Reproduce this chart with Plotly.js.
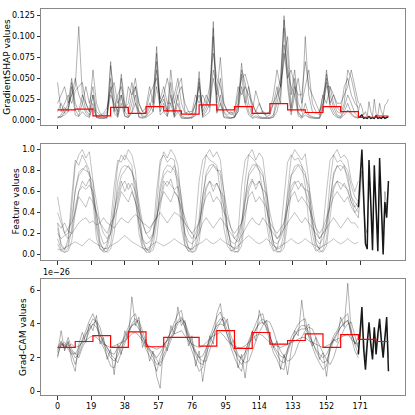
<!DOCTYPE html>
<html>
<head>
<meta charset="utf-8">
<script src="https://cdn.plot.ly/plotly-3.0.1.min.js"></script>
<style>
  html, body { margin: 0; padding: 0; background: #fff; }
  #chart { width: 415px; height: 415px; }
</style>
</head>
<body>
<div id="chart"></div>
<script>
// sample grid: grey lines are read every 2 steps from 0 to 170, the shared tail every step from 170 to 187
const sampleStep = 2;
const tailStart = 170;
const lastIndex = 187;
const windowSize = 10;
const xTicks = [0, 19, 38, 57, 76, 95, 114, 133, 152, 171];

// ---- GradientSHAP values (top) ----
const shap1 = [0.004,0.003,0.01,0.02,0.05,0.012,0.005,0.02,0.008,0.004,
  0.02,0.003,0.002,0.002,0.003,0.07,0.015,0.004,0.03,0.005,
  0.003,0.01,0.03,0.004,0.003,0.004,0.01,0.02,0.088,0.01,
  0.02,0.005,0.03,0.004,0.02,0.003,0.002,0.003,0.002,0.008,
  0.058,0.004,0.01,0.02,0.118,0.01,0.03,0.004,0.003,0.002,
  0.004,0.02,0.068,0.03,0.01,0.003,0.005,0.003,0.002,0.003,
  0.002,0.004,0.02,0.04,0.125,0.05,0.01,0.04,0.008,0.003,
  0.01,0.004,0.003,0.002,0.003,0.02,0.06,0.02,0.01,0.004,
  0.003,0.01,0.02,0.008,0.004,0.003];
const shap2 = [0.002,0.006,0.015,0.01,0.045,0.02,0.01,0.03,0.012,0.006,
  0.03,0.004,0.003,0.002,0.004,0.065,0.03,0.006,0.05,0.01,
  0.004,0.02,0.04,0.01,0.004,0.005,0.015,0.03,0.08,0.02,
  0.03,0.01,0.045,0.006,0.03,0.005,0.003,0.002,0.004,0.01,
  0.05,0.006,0.015,0.03,0.11,0.02,0.05,0.008,0.004,0.003,
  0.003,0.015,0.06,0.045,0.02,0.005,0.01,0.004,0.003,0.002,
  0.003,0.006,0.03,0.05,0.12,0.08,0.015,0.05,0.01,0.004,
  0.02,0.006,0.004,0.003,0.002,0.015,0.055,0.03,0.015,0.006,
  0.004,0.015,0.03,0.02,0.008,0.004];
const shap3 = [0.01,0.02,0.008,0.015,0.03,0.04,0.112,0.03,0.02,0.01,
  0.06,0.02,0.008,0.004,0.006,0.03,0.02,0.01,0.055,0.02,
  0.01,0.03,0.05,0.02,0.01,0.008,0.02,0.01,0.04,0.015,
  0.025,0.01,0.06,0.02,0.04,0.05,0.01,0.006,0.008,0.02,
  0.03,0.01,0.02,0.015,0.05,0.03,0.075,0.02,0.01,0.006,
  0.008,0.03,0.05,0.055,0.04,0.01,0.035,0.02,0.008,0.006,
  0.01,0.02,0.03,0.04,0.07,0.1,0.03,0.06,0.02,0.01,
  0.1,0.03,0.01,0.008,0.01,0.02,0.04,0.04,0.02,0.01,
  0.008,0.02,0.06,0.05,0.03,0.01];
const shap4 = [0.045,0.01,0.02,0.03,0.02,0.035,0.04,0.045,0.02,0.01,
  0.03,0.005,0.004,0.006,0.01,0.04,0.01,0.03,0.04,0.015,
  0.02,0.045,0.02,0.01,0.006,0.01,0.03,0.04,0.05,0.025,
  0.04,0.02,0.02,0.03,0.05,0.02,0.008,0.01,0.006,0.02,
  0.04,0.015,0.03,0.02,0.06,0.04,0.02,0.01,0.006,0.01,
  0.004,0.01,0.04,0.02,0.04,0.02,0.01,0.008,0.01,0.004,
  0.006,0.02,0.04,0.02,0.09,0.06,0.04,0.03,0.05,0.02,
  0.04,0.06,0.02,0.01,0.006,0.03,0.045,0.02,0.03,0.015,
  0.01,0.04,0.05,0.03,0.02,0.015];
const shap5 = [0.003,0.004,0.006,0.01,0.04,0.006,0.004,0.01,0.005,0.003,
  0.015,0.003,0.002,0.003,0.002,0.05,0.008,0.003,0.02,0.004,
  0.003,0.008,0.02,0.003,0.002,0.003,0.006,0.01,0.07,0.006,
  0.01,0.004,0.02,0.003,0.01,0.002,0.002,0.002,0.003,0.005,
  0.045,0.003,0.006,0.01,0.1,0.008,0.02,0.003,0.002,0.002,
  0.003,0.01,0.055,0.02,0.006,0.002,0.003,0.002,0.002,0.002,
  0.002,0.003,0.01,0.03,0.11,0.04,0.006,0.03,0.005,0.002,
  0.006,0.003,0.002,0.002,0.002,0.01,0.05,0.015,0.006,0.003,
  0.002,0.006,0.012,0.006,0.003,0.002];
const shap6 = [0.02,0.03,0.04,0.02,0.03,0.05,0.03,0.02,0.04,0.02,
  0.04,0.01,0.006,0.008,0.015,0.035,0.045,0.02,0.03,0.01,
  0.04,0.03,0.04,0.02,0.01,0.015,0.04,0.02,0.06,0.02,
  0.03,0.05,0.03,0.01,0.03,0.04,0.02,0.01,0.01,0.03,
  0.02,0.03,0.02,0.04,0.08,0.05,0.04,0.02,0.01,0.008,
  0.01,0.04,0.03,0.04,0.03,0.02,0.01,0.02,0.01,0.008,
  0.01,0.03,0.06,0.04,0.08,0.05,0.06,0.04,0.03,0.03,
  0.07,0.04,0.03,0.02,0.01,0.03,0.02,0.04,0.03,0.02,
  0.02,0.03,0.04,0.06,0.04,0.02];
const shapTail = [0.003,0.004,0.006,0.002,0.003,0.002,0.004,0.002,0.003,0.002,0.005,0.002,0.003,0.002,0.004,0.002,0.003,0.004];
const shapTailGrey = [0.01,0.02,0.015,0.006,0.01,0.004,0.022,0.01,0.004,0.025,0.008,0.005,0.02,0.01,0.006,0.018,0.02,0.025];
const shapWindowMean = [0.012,0.013,0.005,0.015,0.008,0.016,0.011,0.007,0.018,0.012,0.016,0.008,0.0195,0.012,0.009,0.016,0.010,0.0032,0.0048];

// ---- Feature values (middle) ----
const feat1 = [0.1,0.03,0.02,0.06,0.25,0.62,0.78,0.82,0.8,0.78,
  0.6,0.25,0.06,0.02,0.03,0.1,0.35,0.7,0.82,0.85,
  0.83,0.8,0.65,0.3,0.08,0.02,0.02,0.08,0.3,0.65,
  0.8,0.85,0.84,0.8,0.7,0.35,0.1,0.03,0.02,0.05,
  0.2,0.55,0.78,0.85,0.86,0.82,0.75,0.45,0.15,0.04,
  0.02,0.03,0.15,0.5,0.78,0.85,0.86,0.84,0.78,0.5,
  0.18,0.05,0.02,0.03,0.12,0.45,0.75,0.84,0.86,0.84,
  0.78,0.55,0.2,0.05,0.02,0.04,0.15,0.5,0.78,0.84,
  0.85,0.82,0.75,0.55,0.45,0.5];
const feat2 = [0.3,0.1,0.05,0.1,0.45,0.85,0.95,1.0,0.92,0.98,
  0.7,0.3,0.1,0.05,0.06,0.2,0.5,0.85,0.95,0.9,
  1.0,0.95,0.8,0.4,0.12,0.05,0.04,0.15,0.45,0.85,
  0.98,0.92,1.0,0.95,0.85,0.5,0.15,0.06,0.04,0.1,
  0.35,0.75,0.95,1.0,0.93,0.98,0.9,0.6,0.25,0.08,
  0.05,0.06,0.25,0.7,0.95,1.0,0.9,0.97,0.92,0.65,
  0.3,0.1,0.05,0.06,0.2,0.6,0.92,1.0,0.95,0.9,
  0.96,0.7,0.3,0.1,0.05,0.08,0.3,0.7,0.95,1.0,
  0.92,0.95,0.9,0.7,0.6,0.7];
const feat3 = [0.15,0.05,0.02,0.03,0.12,0.4,0.6,0.65,0.62,0.66,
  0.6,0.4,0.12,0.04,0.02,0.05,0.2,0.5,0.65,0.7,
  0.62,0.68,0.6,0.45,0.15,0.05,0.02,0.04,0.15,0.45,
  0.65,0.7,0.66,0.62,0.65,0.5,0.2,0.06,0.02,0.03,
  0.12,0.4,0.62,0.7,0.65,0.68,0.6,0.55,0.25,0.08,
  0.03,0.02,0.08,0.35,0.6,0.7,0.66,0.7,0.62,0.58,
  0.3,0.1,0.03,0.02,0.06,0.3,0.6,0.68,0.7,0.65,
  0.62,0.6,0.35,0.12,0.04,0.02,0.08,0.35,0.62,0.7,
  0.68,0.65,0.62,0.5,0.4,0.35];
const feat4 = [0.55,0.35,0.2,0.25,0.3,0.4,0.55,0.5,0.45,0.55,
  0.5,0.4,0.3,0.25,0.2,0.3,0.35,0.45,0.6,0.55,
  0.5,0.6,0.5,0.4,0.3,0.2,0.22,0.3,0.35,0.5,
  0.6,0.55,0.5,0.6,0.55,0.45,0.35,0.25,0.2,0.25,
  0.3,0.45,0.55,0.6,0.5,0.55,0.5,0.4,0.35,0.25,
  0.2,0.25,0.3,0.4,0.55,0.6,0.5,0.55,0.5,0.45,
  0.3,0.25,0.2,0.25,0.3,0.45,0.55,0.6,0.5,0.55,
  0.5,0.45,0.35,0.25,0.2,0.25,0.35,0.45,0.55,0.6,
  0.55,0.5,0.55,0.45,0.4,0.45];
const feat5 = [0.3,0.25,0.3,0.22,0.2,0.25,0.3,0.33,0.35,0.3,
  0.32,0.28,0.3,0.35,0.3,0.28,0.25,0.3,0.35,0.32,
  0.3,0.35,0.38,0.35,0.3,0.28,0.25,0.3,0.35,0.4,
  0.35,0.3,0.35,0.4,0.38,0.35,0.3,0.25,0.2,0.15,
  0.2,0.3,0.35,0.3,0.25,0.3,0.35,0.3,0.25,0.2,
  0.15,0.12,0.18,0.25,0.3,0.35,0.3,0.28,0.35,0.3,
  0.25,0.2,0.15,0.18,0.25,0.3,0.35,0.4,0.35,0.3,
  0.35,0.3,0.25,0.2,0.15,0.2,0.25,0.3,0.35,0.3,
  0.25,0.3,0.35,0.3,0.3,0.25];
const feat6 = [0.05,0.04,0.06,0.08,0.1,0.12,0.1,0.08,0.12,0.15,
  0.12,0.1,0.08,0.06,0.05,0.08,0.1,0.12,0.15,0.18,
  0.15,0.12,0.1,0.08,0.06,0.05,0.07,0.1,0.12,0.1,
  0.08,0.1,0.12,0.15,0.12,0.1,0.08,0.06,0.05,0.08,
  0.1,0.12,0.15,0.12,0.1,0.12,0.15,0.12,0.1,0.08,
  0.06,0.08,0.12,0.15,0.18,0.15,0.12,0.1,0.12,0.15,
  0.12,0.08,0.06,0.08,0.1,0.12,0.15,0.12,0.1,0.12,
  0.15,0.12,0.1,0.08,0.06,0.08,0.1,0.12,0.15,0.12,
  0.1,0.12,0.15,0.12,0.1,0.12];
const feat7 = [0.2,0.15,0.18,0.2,0.35,0.6,0.75,0.8,0.85,0.75,
  0.7,0.5,0.3,0.2,0.15,0.2,0.4,0.6,0.75,0.8,
  0.85,0.78,0.7,0.5,0.3,0.2,0.15,0.2,0.35,0.6,
  0.75,0.8,0.78,0.85,0.75,0.55,0.3,0.2,0.15,0.2,
  0.3,0.55,0.75,0.8,0.85,0.8,0.8,0.6,0.4,0.25,
  0.15,0.2,0.3,0.55,0.75,0.8,0.85,0.8,0.75,0.6,
  0.4,0.25,0.15,0.2,0.3,0.55,0.75,0.8,0.85,0.8,
  0.75,0.65,0.45,0.25,0.15,0.2,0.3,0.55,0.75,0.85,
  0.8,0.85,0.8,0.65,0.55,0.5];
const feat8 = [0.25,0.08,0.04,0.15,0.55,0.9,0.85,0.95,0.88,0.8,
  0.5,0.15,0.05,0.03,0.1,0.3,0.65,0.9,0.88,0.95,
  0.9,0.85,0.55,0.2,0.06,0.03,0.05,0.2,0.6,0.9,
  0.95,0.88,0.92,0.9,0.6,0.25,0.08,0.03,0.06,0.3,
  0.7,0.9,0.95,0.9,0.88,0.85,0.6,0.25,0.08,0.03,
  0.05,0.2,0.65,0.9,0.95,0.92,0.88,0.8,0.6,0.3,
  0.1,0.03,0.05,0.2,0.55,0.88,0.95,0.9,0.92,0.85,
  0.65,0.3,0.1,0.03,0.05,0.25,0.6,0.9,0.95,0.88,
  0.9,0.85,0.7,0.55,0.5,0.45];
const feat9 = [0.4,0.3,0.2,0.15,0.2,0.45,0.6,0.7,0.65,0.72,
  0.55,0.35,0.2,0.1,0.12,0.2,0.4,0.55,0.7,0.6,
  0.68,0.62,0.5,0.3,0.15,0.1,0.12,0.18,0.35,0.55,
  0.7,0.65,0.72,0.6,0.55,0.4,0.2,0.12,0.1,0.15,
  0.25,0.5,0.65,0.7,0.6,0.68,0.6,0.45,0.25,0.12,
  0.1,0.15,0.3,0.5,0.65,0.72,0.62,0.7,0.6,0.45,
  0.25,0.12,0.1,0.15,0.25,0.45,0.65,0.7,0.62,0.68,
  0.6,0.5,0.3,0.15,0.1,0.15,0.25,0.5,0.65,0.7,
  0.62,0.68,0.6,0.5,0.45,0.4];
const featTail = [0.45,0.7,1.0,0.55,0.1,0.05,0.9,0.5,0.04,0.85,0.45,0.03,0.92,0.4,0.0,0.5,0.35,0.7];
const featTailGrey = [0.35,0.55,0.8,0.45,0.25,0.2,0.7,0.45,0.2,0.7,0.4,0.2,0.75,0.4,0.2,0.6,0.45,0.65];

// ---- Grad-CAM values (bottom), in units of 1e-26 ----
const cam1 = [2.1,2.8,2.7,2.6,2.4,2.0,2.2,2.8,3.3,3.9,
  4.3,4.1,3.4,2.8,2.4,2.0,1.8,2.1,2.6,3.0,
  3.5,4.0,4.3,4.0,3.3,2.7,2.4,2.0,1.6,1.7,
  2.2,2.8,3.3,3.8,4.2,4.4,4.0,3.3,2.7,2.2,
  1.7,1.6,2.2,2.9,3.5,4.0,4.3,4.2,3.6,2.9,
  2.4,1.9,1.6,2.0,2.7,3.2,3.7,4.1,4.3,4.0,
  3.3,2.6,2.2,1.8,1.7,2.3,2.9,3.3,3.7,3.9,
  3.9,3.5,2.9,2.4,2.0,1.7,1.8,2.4,3.0,3.4,
  3.8,4.1,4.2,3.6,2.8,2.2];
const cam2 = [2.0,3.0,2.5,2.9,2.2,1.6,2.4,3.1,3.6,4.2,
  4.6,4.0,3.0,2.6,2.1,1.5,1.4,2.4,2.9,3.3,
  3.8,4.4,4.6,3.8,3.0,2.5,2.1,1.8,1.2,2.0,
  2.5,3.1,3.6,4.1,4.6,4.8,3.7,3.0,2.4,1.9,
  1.2,1.4,2.5,3.2,3.8,4.4,4.7,4.0,3.2,2.6,
  2.0,1.5,1.2,2.3,3.0,3.5,4.0,4.5,4.6,3.7,
  3.0,2.3,1.9,1.4,1.3,2.5,3.2,3.6,4.0,4.2,
  4.3,3.2,2.6,2.1,1.7,1.3,1.5,2.7,3.3,3.6,
  4.1,4.4,4.6,3.2,2.4,2.0];
const cam3 = [2.6,2.8,2.9,2.7,2.8,2.6,2.7,2.9,3.0,3.2,
  3.3,3.2,3.0,2.8,2.7,2.6,2.7,2.8,2.9,3.0,
  3.2,3.4,3.5,3.3,3.0,2.8,2.7,2.6,2.5,2.6,
  2.8,3.0,3.2,3.4,3.5,3.6,3.3,3.0,2.8,2.7,
  2.6,2.7,2.9,3.1,3.3,3.4,3.5,3.3,3.0,2.8,
  2.7,2.6,2.6,2.7,2.9,3.1,3.3,3.4,3.3,3.1,
  2.9,2.8,2.7,2.6,2.7,2.8,2.9,3.0,3.1,3.2,
  3.2,3.0,2.9,2.8,2.7,2.6,2.7,2.8,3.0,3.1,
  3.2,3.3,3.4,3.1,2.9,2.8];
const cam4 = [2.3,3.6,2.4,3.0,1.8,1.2,2.8,3.5,2.9,4.0,
  3.6,4.5,2.8,3.2,1.9,2.5,1.0,2.8,2.2,3.6,
  3.1,5.6,3.9,4.4,2.6,3.1,1.8,2.4,0.9,0.2,
  2.9,2.4,3.9,3.4,5.0,3.9,4.2,2.7,3.3,1.5,
  2.4,0.6,2.0,3.3,2.8,4.6,5.2,3.9,4.3,2.8,
  3.1,1.4,2.2,0.8,2.5,3.6,3.0,4.8,4.0,4.2,
  3.3,2.6,3.0,1.3,2.2,1.0,2.4,3.6,3.3,5.4,
  3.7,4.0,2.7,3.2,1.9,2.3,0.9,2.6,3.1,2.9,
  4.4,3.8,6.4,3.5,2.8,3.2];
const cam5 = [2.5,2.7,2.8,2.5,2.2,2.3,2.0,2.6,3.0,3.6,
  4.0,4.2,3.8,3.0,2.6,2.2,2.0,1.7,2.3,2.8,
  3.3,3.9,4.1,4.2,3.6,2.9,2.5,2.2,1.9,1.5,
  2.0,2.6,3.0,3.6,4.0,4.3,4.1,3.5,2.9,2.4,
  2.0,1.8,1.8,2.5,3.1,3.7,4.1,4.4,4.0,3.3,
  2.7,2.2,1.9,1.7,1.8,2.4,3.0,3.5,3.9,4.2,
  4.1,3.6,2.9,2.4,2.1,1.8,1.9,2.2,2.8,3.2,
  3.6,3.8,3.7,3.2,2.7,2.3,1.9,1.6,2.0,2.7,
  3.2,3.7,4.0,4.1,3.3,2.6];
const cam6 = [2.7,2.9,2.6,3.2,2.5,2.2,2.6,3.0,3.4,3.7,
  4.0,3.8,3.3,2.9,2.6,2.3,2.2,2.6,2.8,3.2,
  3.6,3.9,4.0,3.7,3.2,2.9,2.5,2.3,2.0,2.3,
  2.7,3.1,3.5,3.9,4.1,4.2,3.8,3.2,2.7,2.3,
  2.0,2.1,2.6,3.1,3.5,3.9,4.0,3.9,3.3,2.8,
  2.4,2.1,2.0,2.3,2.9,3.3,3.7,4.0,4.1,3.8,
  3.2,2.7,2.4,2.1,2.0,2.5,3.0,3.3,3.6,3.7,
  3.7,3.3,2.9,2.5,2.2,2.0,2.2,2.7,3.1,3.5,
  3.8,4.0,4.2,3.4,2.9,2.6];
const camTail = [2.2,3.6,5.0,2.5,1.3,2.8,4.1,2.8,1.9,3.8,2.2,3.4,4.3,3.0,2.0,3.2,4.4,1.2];
const camTailGrey = [2.8,3.2,4.2,3.0,2.0,3.0,3.8,3.0,2.3,3.6,2.8,3.0,3.9,3.2,2.5,3.2,3.8,2.0];
const camWindowMean = [2.61,2.96,3.31,2.61,3.53,2.65,3.2,3.2,2.69,3.6,2.55,3.49,2.8,3.02,3.41,2.61,3.37,3.08,2.96];

const panels = [
    { lines: [shap1, shap2, shap3, shap4, shap5, shap6], tail: shapTail, tailGrey: shapTailGrey, mean: shapWindowMean, alpha: 0.3 },
    { lines: [feat1, feat2, feat3, feat4, feat5, feat6, feat7, feat8, feat9], tail: featTail, tailGrey: featTailGrey, mean: null, alpha: 0.24 },
    { lines: [cam1, cam2, cam3, cam4, cam5, cam6], tail: camTail, tailGrey: camTailGrey, mean: camWindowMean, alpha: 0.3 },
];

const traces = [];
panels.forEach((p, k) => {
    const xa = k === 0 ? 'x' : 'x' + (k + 1);
    const ya = k === 0 ? 'y' : 'y' + (k + 1);
    p.lines.forEach(vals => {
        traces.push({
            x: vals.map((v, i) => i * sampleStep), y: vals,
            xaxis: xa, yaxis: ya, mode: 'lines', type: 'scatter',
            line: { color: `rgba(0,0,0,${p.alpha})`, width: 1 },
        });
    });
    traces.push({
        x: p.tailGrey.map((v, i) => tailStart + i), y: p.tailGrey,
        xaxis: xa, yaxis: ya, mode: 'lines', type: 'scatter',
        line: { color: 'rgba(0,0,0,0.3)', width: 1 },
    });
    traces.push({
        x: p.tail.map((v, i) => tailStart + i), y: p.tail,
        xaxis: xa, yaxis: ya, mode: 'lines', type: 'scatter',
        line: { color: 'rgba(0,0,0,0.9)', width: 1.5 },
    });
    if (p.mean) {
        // window means drawn as steps, one level per window of 10
        const sx = p.mean.map((v, i) => i * windowSize).concat([lastIndex]);
        const sy = p.mean.concat([p.mean[p.mean.length - 1]]);
        traces.push({
            x: sx, y: sy, xaxis: xa, yaxis: ya, mode: 'lines', type: 'scatter',
            line: { color: '#ff0000', width: 1.2, shape: 'hv' },
        });
    }
});

const font = { family: 'DejaVu Sans, sans-serif', size: 8, color: '#000' };
const titleFont = { family: 'DejaVu Sans, sans-serif', size: 9, color: '#000' };
function xAxis(domainAnchor, showLabels) {
    return {
        range: [-9.35, 196.35], anchor: domainAnchor, tickvals: xTicks,
        showticklabels: showLabels, ticks: 'outside', ticklen: 3.5, tickcolor: '#333',
        showline: true, mirror: true, linecolor: '#888', linewidth: 1,
        showgrid: false, zeroline: false, tickfont: font,
    };
}
function yAxis(domain, anchor, range, dtick, fmt) {
    return {
        domain: domain, anchor: anchor, range: range, dtick: dtick, tick0: 0, tickformat: fmt,
        ticks: 'outside', ticklen: 3.5, tickcolor: '#333',
        showline: true, mirror: true, linecolor: '#888', linewidth: 1,
        showgrid: false, zeroline: false, tickfont: font,
    };
}
function yTitle(text, xPaper, yPaper) {
    return {
        text: text, xref: 'paper', yref: 'paper', x: xPaper, y: yPaper,
        xanchor: 'center', yanchor: 'middle', textangle: -90, showarrow: false, font: titleFont,
    };
}

const layout = {
    width: 415, height: 415,
    margin: { l: 41, r: 10, t: 9, b: 20 },
    paper_bgcolor: '#fff', plot_bgcolor: '#fff',
    showlegend: false, hovermode: false,
    font: font,
    xaxis: xAxis('y', false),
    xaxis2: xAxis('y2', false),
    xaxis3: xAxis('y3', true),
    yaxis: yAxis([0.6995, 1.0], 'x', [-0.006, 0.133], 0.025, '.3f'),
    yaxis2: yAxis([0.3497, 0.6503], 'x2', [-0.054, 1.054], 0.2, '.1f'),
    yaxis3: yAxis([0, 0.3005], 'x3', [-0.2, 6.65], 2, 'd'),
    annotations: [
        yTitle('GradientSHAP values', -0.094, 0.85),
        yTitle('Feature values', -0.07, 0.5),
        yTitle('Grad-CAM values', -0.05, 0.15),
        {
            text: '1e\u221226', xref: 'paper', yref: 'paper', x: 0, y: 0.3005,
            xanchor: 'left', yanchor: 'bottom', showarrow: false, font: font, yshift: 0,
        },
    ],
};

Plotly.newPlot('chart', traces, layout, { staticPlot: true });
</script>
</body>
</html>
